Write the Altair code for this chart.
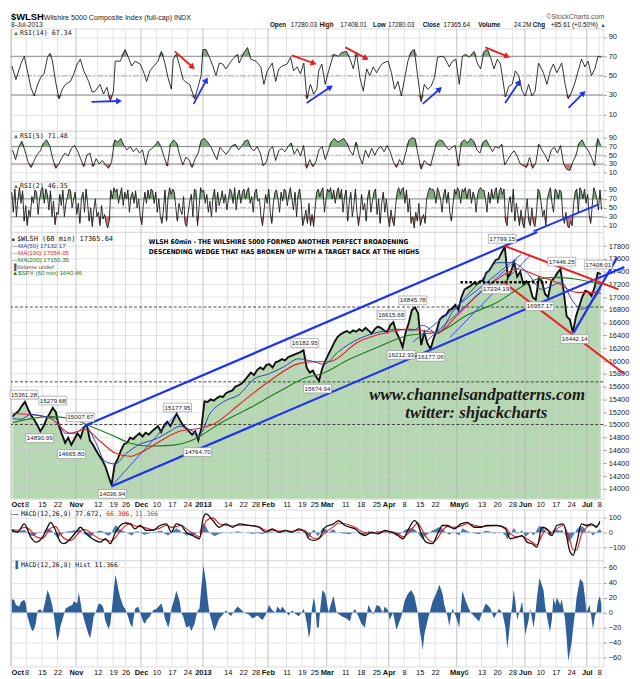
import math
import altair as alt
import pandas as pd

# ======================= DATA =======================
HOLIDAYS = ["2012-10-29", "2012-10-30", "2012-11-22", "2012-12-25", "2013-01-01",
            "2013-01-21", "2013-02-18", "2013-03-29", "2013-05-27", "2013-07-04"]
TICK_DATES = ["2012-10-01", "2012-10-08", "2012-10-15", "2012-10-22", "2012-11-01", "2012-11-12",
              "2012-11-19", "2012-11-26", "2012-12-03", "2012-12-10", "2012-12-17", "2012-12-24",
              "2013-01-02", "2013-01-14", "2013-01-22", "2013-01-28", "2013-02-01", "2013-02-11",
              "2013-02-19", "2013-02-25", "2013-03-01", "2013-03-11", "2013-03-18", "2013-03-25",
              "2013-04-01", "2013-04-08", "2013-04-15", "2013-04-22", "2013-05-01", "2013-05-06",
              "2013-05-13", "2013-05-20", "2013-05-28", "2013-06-03", "2013-06-10", "2013-06-17",
              "2013-06-24", "2013-07-01", "2013-07-08"]
TICK_LABELS = ["Oct", "8", "15", "22", "Nov", "12", "19", "26", "Dec", "10", "17", "24", "2013", "14",
               "22", "28", "Feb", "11", "19", "25", "Mar", "11", "18", "25", "Apr", "8", "15", "22",
               "May", "6", "13", "20", "28", "Jun", "10", "17", "24", "Jul", "8"]
MONTH_LABELS = ["Oct", "Nov", "Dec", "2013", "Feb", "Mar", "Apr", "May", "Jun", "Jul"]

# daily closes of $WLSH (one per trading day)
CLOSE = [15130, 15180, 15220, 15300, 15361, 15250, 15150, 15080, 15000, 14900,
         14980, 15100, 15180, 15270, 15200, 14980, 14850, 14720, 14800, 14690,
         14780, 14870, 14800, 14960, 15000, 14760, 14690, 14600, 14520, 14450,
         14350, 14200, 14060, 14380, 14470, 14600, 14700, 14720, 14800, 14780,
         14830, 14870, 14820, 14880, 14850, 14900, 14940, 14980, 14890, 15000,
         15050, 14980, 15080, 15178, 15080, 15000, 14950, 14900, 14850, 14900,
         14760, 14950, 15370, 15360, 15400, 15380, 15420, 15450, 15440, 15500,
         15520, 15540, 15600, 15620, 15650, 15700, 15760, 15820, 15780, 15860,
         15900, 15870, 15940, 15950, 15900, 15980, 16000, 16030, 16010, 16060,
         16080, 16100, 16120, 16140, 16170, 15900, 15820, 15850, 15760, 15690,
         15880, 16000, 16100, 16200, 16300, 16380, 16420, 16450, 16470, 16440,
         16480, 16460, 16500, 16470, 16520, 16480, 16430, 16500, 16540, 16520,
         16480, 16450, 16560, 16610, 16450, 16350, 16220, 16450, 16600, 16800,
         16840, 16750, 16250, 16450, 16280, 16190, 16350, 16480, 16650, 16700,
         16720, 16800, 16820, 16880, 16800, 17000, 17120, 17150, 17180, 17220,
         17200, 17250, 17260, 17380, 17420, 17500, 17580, 17600, 17700, 17790,
         17300, 17400, 17550, 17320, 17400, 17200, 17250, 17180, 17000, 16960,
         17300, 17250, 17050, 17000, 17250, 17300, 17380, 17440, 17100, 16700,
         16650, 16450, 16700, 16850, 17000, 17100, 17080, 17020, 17150, 17380,
         17365]

MA50 = [(0.5, 15100), (3.2, 15090), (6.4, 15165), (11.2, 15130), (14.4, 15100), (17.6, 14870),
        (20.8, 14870), (24.0, 14980), (27.2, 14745), (30.4, 14430), (33.7, 14390), (36.9, 14540),
        (41.7, 14700), (46.5, 14775), (51.3, 14900), (54.5, 14980), (57.7, 14930), (60.9, 14850),
        (64.1, 15165), (68.9, 15370), (73.7, 15475), (78.5, 15720), (83.3, 15800), (88.1, 15910),
        (92.9, 16035), (97.8, 15990), (101.0, 15950), (105.8, 16150), (112.2, 16345), (118.6, 16450),
        (125.0, 16500), (129.8, 16480), (133.0, 16560), (137.8, 16430), (142.6, 16765), (147.4, 17030),
        (152.2, 17280), (157.1, 17540), (161.9, 17540), (166.7, 17385), (171.5, 17120), (174.7, 17180),
        (177.9, 17230), (181.1, 16965), (184.3, 16810), (187.5, 16920), (190.5, 17132)]
MA100 = [(0.5, 15180), (6.4, 15165), (12.8, 15100), (19.2, 14870), (24.0, 14930), (28.8, 14745),
         (33.7, 14560), (38.5, 14510), (41.7, 14560), (48.1, 14745), (54.5, 14900), (60.9, 14950),
         (65.7, 15020), (73.7, 15320), (83.3, 15680), (92.9, 15960), (97.8, 15990), (102.6, 15990),
         (112.2, 16300), (121.8, 16450), (128.2, 16500), (137.8, 16450), (144.2, 16720), (150.6, 17030),
         (157.1, 17280), (163.5, 17440), (169.9, 17340), (176.3, 17230), (182.7, 17075), (189.1, 17075),
         (190.5, 17054)]
MA200 = [(0.5, 15040), (12.8, 15130), (19.2, 15100), (25.6, 14980), (32.1, 14850), (38.5, 14715),
         (44.9, 14670), (51.3, 14680), (57.7, 14745), (60.9, 14820), (67.3, 15020), (76.9, 15260),
         (86.5, 15520), (96.2, 15755), (99.4, 15785), (109.0, 16020), (118.6, 16220), (128.2, 16400),
         (137.8, 16450), (147.4, 16720), (157.1, 16920), (163.5, 17120), (169.9, 17280), (176.3, 17310),
         (182.7, 17280), (190.5, 17200)]

RSI14_DAY = [0.3, 1.6, 3.2, 4.3, 5.3, 6.4, 7.5, 8.6, 9.6, 10.7, 11.8, 12.6, 13.4, 14.4, 15.5, 16.6,
             17.6, 19.2, 20.3, 21.4, 22.4, 23.5, 25.1, 26.2, 27.2, 28.8, 29.9, 31.0, 32.1, 33.1, 33.7,
             35.3, 36.9, 37.9, 39.0, 40.1, 41.7, 42.7, 43.8, 44.9, 45.9, 47.5, 48.6, 49.7, 50.7, 51.8,
             52.4, 53.4, 54.5, 55.6, 56.6, 57.7, 59.3, 60.4, 61.4, 62.0, 63.0, 64.1, 65.2, 66.2, 67.3,
             68.4, 69.4, 71.6, 73.2, 73.7, 75.3, 76.4, 77.5, 79.1, 80.7, 81.7, 82.8, 84.4, 85.5, 86.5,
             87.6, 89.2, 90.3, 91.3, 92.4, 93.5, 94.6, 95.6, 96.7, 97.8, 98.8,
             99.4, 100.4, 101.5, 102.6, 104.2, 105.8, 106.8, 108.4, 109.5, 110.6, 111.6, 112.7, 113.8,
             114.9, 115.9, 117.0, 118.1, 119.1, 120.2, 121.8, 122.9, 123.9, 125.0, 126.1, 127.1, 128.2,
             129.3, 130.3, 131.4, 132.5, 133.5, 134.6, 135.7, 136.8, 137.8, 138.9, 140.0, 141.6, 142.6,
             143.7, 144.8, 145.8, 146.9, 148.0, 149.6, 150.6, 151.7, 152.8, 153.9, 154.9, 156.0, 157.1,
             158.1, 159.7, 160.8, 161.9, 162.9, 164.0, 165.1, 166.1, 167.2, 168.3, 169.3, 170.4, 172.0,
             173.1, 174.2, 175.2, 176.3, 177.9, 179.0, 180.0, 181.1, 182.2, 183.2, 184.3, 185.4, 186.4,
             187.5, 188.6, 189.6, 190.7]
RSI14_VAL = [60, 46, 62, 70, 55, 38, 29, 41, 48, 52, 69, 73, 65, 44, 26, 36, 41, 44, 52, 62,
             67, 55, 44, 33, 34, 41, 31, 38, 24, 34, 65, 65, 77, 69, 60, 65, 62, 55, 44, 55,
             59, 65, 75, 63, 48, 36, 67, 72, 60, 46, 43, 41, 26, 38, 50, 77, 77, 69, 60, 50,
             63, 62, 57, 67, 72, 63, 74, 79, 67, 65, 59, 41, 55, 63, 44, 57, 60, 62, 69, 55,
             59, 52, 63, 26, 41, 31, 36,
             55, 62, 41, 55, 72, 70, 74, 75, 67, 57, 74, 48, 34, 57, 50, 59, 53, 59, 63, 65,
             53, 36, 44, 29, 46, 65, 75, 77, 48, 23, 41, 36, 39, 48, 69, 70, 69, 59, 65, 67,
             41, 70, 72, 69, 75, 63, 57, 75, 77, 69, 57, 67, 62, 28, 39, 41, 55, 50, 34, 29,
             41, 29, 34, 63, 53, 41, 55, 62, 53, 63, 41, 26, 33, 43, 55, 67, 59, 65, 50, 57,
             70, 69]

# one value per trading day
RSI5_VAL = [62, 40, 68, 82, 60, 35, 22, 38, 52, 60, 78,
            85, 72, 42, 20, 30, 45, 55, 48, 66, 72,
            60, 42, 24, 50, 55, 24, 42, 30, 38, 28, 20,
            35, 85, 80, 88, 72, 62, 70, 58, 66, 55,
            62, 28, 60, 65, 72, 82, 68, 45, 25, 75,
            85, 78, 50, 28, 45, 40, 22, 42, 55, 85,
            88, 80, 70, 55, 40, 68, 60, 52, 62, 72,
            75, 62, 70, 82, 85, 66, 60, 70, 55, 26,
            35, 62, 70, 38, 60, 65, 58, 70, 78, 52,
            65, 48, 72, 20, 40, 24, 35, 62, 70, 40,
            60, 82, 88, 80, 84, 88, 78, 60, 50, 80,
            48, 30, 62, 45, 66, 50, 64, 70, 58, 72,
            58, 35, 22, 40, 28, 55, 84, 90, 88, 50,
            18, 38, 30, 26, 52, 80, 85, 82, 70, 62,
            68, 72, 25, 80, 85, 78, 88, 82, 62, 55,
            80, 85, 72, 58, 70, 66, 75, 28, 40, 52,
            60, 48, 30, 26, 22, 45, 20, 32, 75, 62,
            50, 35, 62, 68, 55, 72, 30, 18, 15, 35,
            50, 78, 85, 70, 60, 45, 26, 88, 72]

# two values per trading day
RSI2_VAL = [85, 40, 92, 30, 70, 95, 60, 88, 20, 55, 10, 45, 30, 75, 60, 90, 85, 35, 70, 90,
            95, 60, 92, 80, 45, 88, 30, 65, 12, 40, 35, 80, 55, 90, 30, 60, 75, 92, 88, 50,
            70, 85, 35, 60, 15, 70, 85, 40, 92, 60, 20, 50, 8, 45, 70, 30, 40, 10, 55, 25,
            35, 15, 5, 20, 90, 70, 95, 85, 92, 60, 80, 95, 55, 85, 70, 90, 40, 75, 85, 60,
            88, 50, 70, 30, 12, 55, 85, 60, 90, 70, 92, 88, 60, 85, 40, 70, 30, 15, 45, 90,
            20, 75, 95, 80, 92, 85, 50, 20, 60, 45, 35, 75, 15, 8, 40, 65, 80, 30, 92, 88,
            10, 50, 95, 85, 90, 60, 80, 40, 65, 30, 75, 92, 40, 85, 55, 70, 88, 60, 80, 45,
            70, 92, 85, 60, 95, 45, 80, 90, 60, 85, 92, 70, 88, 95, 60, 75, 40, 85, 92, 65,
            70, 30, 10, 45, 80, 60, 92, 40, 15, 60, 85, 90, 70, 40, 85, 65, 92, 88, 55, 80,
            95, 70, 45, 85, 30, 80, 92, 60, 10, 25, 45, 15, 60, 10, 35, 8, 50, 85, 92, 75,
            88, 95, 40, 70, 92, 85, 95, 70, 90, 60, 85, 95, 70, 92, 40, 75, 90, 20, 60, 85,
            30, 55, 92, 40, 10, 35, 80, 45, 60, 20, 75, 90, 40, 65, 85, 92, 35, 70, 15, 60,
            85, 40, 70, 30, 8, 45, 20, 10, 55, 85, 95, 80, 92, 95, 60, 90, 40, 70, 15, 30,
            5, 40, 20, 60, 10, 25, 35, 15, 70, 85, 95, 90, 92, 85, 60, 95, 85, 70, 40, 80,
            92, 60, 85, 40, 20, 55, 92, 80, 95, 88, 60, 92, 85, 95, 70, 90, 92, 60, 85, 75,
            40, 80, 92, 95, 88, 90, 70, 40, 85, 60, 92, 70, 85, 95, 60, 88, 95, 80, 92, 20,
            10, 60, 75, 40, 92, 20, 60, 35, 10, 45, 15, 5, 40, 70, 20, 10, 50, 15, 8, 40,
            92, 85, 60, 30, 45, 10, 70, 85, 95, 60, 40, 92, 88, 70, 90, 85, 30, 15, 40, 10,
            5, 20, 10, 60, 85, 92, 40, 95, 88, 70, 92, 60, 80, 35, 15, 55, 95, 85, 70, 45,
            90, 46]

MACD_DAY = [0.3, 2.1, 4.3, 6.4, 8.0, 10.2, 11.8, 12.8, 14.4, 16.0, 17.1, 19.2, 21.4, 22.4, 24.0,
            25.6, 27.2, 28.8, 30.5, 32.1, 33.7, 35.3, 36.9, 38.5, 40.1, 41.7, 43.8, 45.9, 48.1,
            50.2, 51.8, 53.4, 55.0, 56.6, 58.8, 60.9, 62.0, 63.0, 65.2, 67.3, 69.4, 71.6, 73.7,
            76.9, 80.1, 82.3, 84.4, 86.5, 88.7, 90.8, 93.0, 95.1, 96.2, 97.8, 99.4, 101.5, 104.2,
            105.8, 107.9, 111.1, 114.3, 116.5, 118.6, 120.7, 122.9, 125.0, 126.6, 128.2, 130.3,
            131.4, 132.5, 134.1, 136.2, 137.8, 139.4, 141.0, 143.2, 145.3, 147.4, 149.6, 151.7,
            153.8, 157.1, 159.7, 161.3, 163.5, 165.1, 166.7, 168.3, 169.9, 171.5, 173.1, 174.7,
            176.3, 178.4, 180.6, 181.6, 182.7, 184.3, 185.9, 187.5, 189.1, 190.2]
MACD_VAL = [14, 2, 59, -32, -66, -32, 36, 70, 14, -66, -77, -43, 14, 36, 2, -32, -54, -66, -43, -77,
            0, 48, 65, 59, 25, 48, 14, 14, 48, 59, 2, 59, 48, 2, -21, -43, 93, 127, 82, 36,
            59, 36, 59, 48, 36, 2, 25, 2, 14, 2, 25, 2, -43, -54, -43, 36, 59, 82, 48, 25,
            -21, 2, -9, 14, 2, -21, -43, 14, 82, 59, -9, -66, -77, -9, 48, 48, 25, 59, 70, 36,
            36, 48, 48, 25, -43, -32, -21, -66, -77, -100, 36, 25, -21, 48, 59, -134, -156, -77, 59, 48,
            59, 36, 78]
SIGNAL_VAL = [20, 15, 35, 15, -30, -40, 0, 30, 40, -10, -40, -55, -15, 10, 20, 0, -25, -45, -50, -60,
              -35, 10, 45, 60, 45, 40, 30, 18, 30, 50, 35, 40, 50, 25, -5, -30, 20, 80, 100, 60,
              50, 45, 50, 50, 40, 15, 15, 10, 10, 8, 15, 12, -15, -40, -40, 0, 40, 65, 60, 35,
              0, -5, -3, 5, 5, -10, -30, -10, 45, 65, 30, -30, -65, -40, 15, 40, 35, 45, 60, 50,
              40, 45, 48, 35, -10, -30, -25, -45, -65, -85, -20, 20, 0, 25, 50, -60, -120, -120, -10, 35,
              50, 45, 66]
HIST = [(0.3, 18), (1.1, 16), (1.6, 10), (2.7, 8), (3.2, 14), (4.3, 17), (4.8, 12), (5.3, -5), (6.4, -20),
        (6.9, -25), (7.5, -22), (8.0, -15), (8.6, 2), (9.1, 4), (9.6, 4), (10.2, 0), (10.7, 8), (11.8, 30),
        (12.3, 25), (12.8, 18), (13.4, 8), (13.9, -5), (14.4, -20), (15.0, -38), (15.5, -30), (16.0, -18),
        (16.6, -10), (17.6, 5), (18.7, 8), (19.8, 10), (20.3, 15), (21.4, 12), (21.9, 27), (22.4, 15),
        (23.0, 0), (24.0, -15), (25.1, -30), (25.6, -34), (26.2, -20), (26.7, -5), (27.8, 5), (28.3, 12),
        (29.4, 10), (29.9, 5), (30.4, -10), (31.5, -22), (32.1, -15), (32.6, 5), (33.1, 25), (33.7, 50),
        (34.2, 42), (34.7, 30), (35.3, 20), (36.3, 8), (36.9, 5), (37.4, 0), (38.5, -15), (39.2, -20),
        (39.5, -10), (40.1, 5), (41.1, 8), (41.7, 0), (42.7, -12), (43.3, -15), (43.8, -10), (44.9, -5),
        (45.9, 3), (47.0, 5), (48.1, 10), (48.6, 12), (49.1, 5), (49.7, -8), (50.8, -20), (51.3, -12),
        (51.8, 5), (52.9, 20), (53.4, 29), (54.5, 15), (55.0, 0), (55.6, -5), (56.6, -20), (57.7, -18),
        (58.2, -25), (59.3, -15), (59.8, -5), (60.4, 3), (60.9, 5), (61.4, 30), (62.2, 63), (63.0, 40),
        (63.6, 15), (64.1, 0), (65.2, -18), (65.7, -25), (66.2, -20), (67.3, -8), (68.4, -3), (69.4, 3),
        (71.0, -5), (72.1, 2), (73.2, 8), (74.3, 4), (75.3, 0), (76.9, -3), (78.0, -8), (79.6, -4),
        (81.2, -10), (82.3, -3), (83.3, 10), (84.4, 3), (85.5, 0), (86.0, 8), (87.1, 3), (87.6, 8),
        (88.7, 2), (89.7, -4), (90.8, 3), (91.9, -2), (93.0, -5), (94.6, 5), (95.6, -15), (96.2, -34),
        (96.7, -25), (97.2, 5), (97.8, 20), (98.3, 10), (98.8, -20),
        (99.4, -20), (99.9, 5), (100.6, 30), (101.5, 25), (102.6, 0), (103.6, 15), (104.2, 22), (105.2, 0),
        (106.8, -5), (108.4, -8), (109.5, -12), (110.0, -3), (111.1, 5), (112.2, -5), (113.2, -15),
        (114.3, -20), (114.9, -5), (115.4, 10), (116.5, 2), (117.0, -3), (118.1, 10), (119.1, 8),
        (119.7, 3), (120.2, 0), (120.7, 8), (121.8, 3), (122.3, -10), (123.4, 0), (123.9, -10),
        (124.5, -23), (125.5, -12), (126.1, -5), (127.1, 15), (128.2, 25), (129.3, 30), (130.3, 22),
        (131.4, 0), (131.9, -20), (132.5, -35), (133.0, -50), (133.5, -30), (134.6, -10), (136.2, 15),
        (137.3, 25), (138.4, 37), (139.4, 25), (140.0, 10), (141.0, -5), (141.6, -18), (142.1, -5),
        (142.6, 5), (143.7, -5), (144.8, -20), (145.3, 5), (145.8, 29), (146.9, 15), (147.4, 10),
        (148.5, 0), (149.6, -5), (151.2, -12), (152.2, 0), (153.3, 12), (154.4, 8), (154.9, 5),
        (156.0, -8), (157.0, 0), (157.6, 5), (158.7, 0), (159.7, -20), (160.3, -48), (160.8, -30),
        (161.3, -10), (161.9, 10), (162.4, 30), (162.9, 15), (163.5, -10), (164.5, 5), (165.1, 15),
        (165.6, -5), (166.1, -30), (167.2, -10), (167.7, 5), (168.8, -20), (169.3, -5), (169.9, 20),
        (170.7, 46), (172.0, 30), (172.5, 10), (173.1, -5), (174.1, -26), (174.7, -10), (175.2, 20),
        (175.8, 10), (176.3, 20), (177.4, 10), (177.9, 18), (178.4, 5), (179.0, -10), (179.5, -35),
        (180.0, -65), (181.1, -40), (181.6, -20), (182.2, 0), (182.7, 20), (183.8, 45), (184.8, 40),
        (185.4, 20), (185.9, 0), (186.9, 10), (188.0, -22), (188.6, -5), (189.1, 0), (189.6, 15),
        (190.2, 22), (190.7, 11)]

# price tags (text, trading-day position, price position)
PRICE_TAGS = [("15361.28", 4.2, 15475), ("14890.99", 9.3, 14792), ("15279.68", 13.5, 15382),
              ("15007.67", 22.4, 15118), ("14665.80", 19.5, 14544), ("14036.94", 32.7, 13922),
              ("15177.95", 53.8, 15273), ("14764.70", 60.3, 14575), ("16182.95", 94.9, 16283),
              ("15674.94", 99.0, 15569), ("16615.68", 122.8, 16718), ("16212.93", 126.0, 16097),
              ("16845.78", 129.8, 16951), ("16177.06", 135.6, 16066), ("17799.15", 158.7, 17914),
              ("17234.19", 156.7, 17122), ("16957.17", 170.8, 16858), ("17446.25", 177.9, 17556),
              ("16442.14", 182.1, 16345), ("17408.01", 189.7, 17510)]
LEVELS_DASHED = [16845.78, 15674.94, 15007.67]
LEVEL_DOTTED = [(145.2, 173.1, 17234.19)]
TREND_BLUE = [(24.0, 14990, 170.0, 18022), (32.4, 14037, 198.1, 17474), (181.7, 16442, 195.8, 17619)]
TREND_BLUE_THIN = [(32.4, 14037, 53.5, 15178), (129.8, 16298, 164.8, 17670),
                   (134.6, 16330, 163.5, 17590), (141.9, 16376, 167.6, 17650)]
TREND_RED = [(159.3, 17805, 196.2, 17122), (159.3, 17230, 198.1, 15801)]
RSI_RED_ARROWS = [(52.9, 75.1, 58.7, 58.7), (90.7, 71.0, 97.8, 62.8), (108.0, 79.2, 114.7, 67.9),
                  (153.2, 79.2, 160.3, 70.0)]
RSI_BLUE_ARROWS = [(26.0, 22.8, 34.9, 23.8), (59.0, 20.8, 63.1, 45.4), (95.5, 21.8, 103.2, 38.2),
                   (133.0, 20.8, 138.5, 36.2), (159.6, 21.8, 164.1, 43.3), (180.1, 16.7, 184.9, 32.1)]
RSI2_BLUE_LINE = [(168.8, -3.0, 189.6, 57.0)]
PRICE_TICKS = list(range(14000, 17801, 200))
RSI_TICKS = [10, 30, 50, 70, 90]
MACD_TICKS = [-100, 0, 100]
HIST_TICKS = [-60, -40, -20, 0, 20, 40, 60]

# ======================= BUILD =======================
trading = [d for d in pd.bdate_range("2012-10-01", "2013-07-08") if d.strftime("%Y-%m-%d") not in HOLIDAYS]
pos = {d.strftime("%Y-%m-%d"): i for i, d in enumerate(trading)}
TICK_POS = [pos[t] for t in TICK_DATES]

W = 597
XMAX = 191.3
XS = alt.Scale(domain=[0, XMAX], nice=False, zero=False)
H = dict(rsi14=103, rsi5=51, rsi2=51, main=269, gap=11, macd=51, hist=107)
S_RSI14 = alt.Scale(domain=[-6.92, 98.72], nice=False, zero=False)
S_RSI5 = alt.Scale(domain=[-9.7, 106.0], nice=False, zero=False)
S_RSI2 = alt.Scale(domain=[-4.0, 109.3], nice=False, zero=False)
S_MAIN = alt.Scale(domain=[13845, 18022], nice=False, zero=False)
S_MACD = alt.Scale(domain=[-190.5, 156.5], nice=False, zero=False)
S_HIST = alt.Scale(domain=[-71.9, 69.8], nice=False, zero=False)

AXF = "Liberation Sans"
MONO = "DejaVu Sans Mono"
ONE = pd.DataFrame({"k": [0]})


def right_axis(vals, grid=True):
    return alt.Axis(orient="right", values=vals, grid=grid, gridColor="#e2e2e2", gridWidth=1,
                    ticks=True, tickSize=3, tickColor="#999999", domain=False, labelFont=AXF,
                    labelFontSize=7.5, labelColor="#222222", labelPadding=2, format="d")


# one identical y-axis definition per panel, used by every layer of that panel
Y_AXES = {
    id(S_RSI14): right_axis(RSI_TICKS),
    id(S_RSI5): right_axis(RSI_TICKS),
    id(S_RSI2): right_axis(RSI_TICKS),
    id(S_MAIN): right_axis(PRICE_TICKS, grid=False),
    id(S_MACD): right_axis(MACD_TICKS),
    id(S_HIST): right_axis(HIST_TICKS),
}


def X(f="d", axis=None):
    return alt.X(f"{f}:Q", scale=XS, axis=axis, title=None)


def Y(f, sc):
    return alt.Y(f"{f}:Q", scale=sc, axis=Y_AXES[id(sc)], title=None)


lab_arr = ",".join("'%s'" % l for l in TICK_LABELS)
pos_arr = ",".join(str(p) for p in TICK_POS)
mon_arr = ",".join(str(p) for p, l in zip(TICK_POS, TICK_LABELS) if l in MONTH_LABELS)


def bottom_axis():
    return alt.Axis(orient="bottom", values=TICK_POS,
                    labelExpr=f"[{lab_arr}][indexof([{pos_arr}], datum.value)]",
                    grid=False, ticks=False, domain=False, labelFont=AXF, labelFontSize=7.5,
                    labelColor="#111111", labelPadding=2, labelFlush=True, labelOverlap=False,
                    labelFontWeight={"condition": {"test": f"indexof([{mon_arr}], datum.value) >= 0",
                                                   "value": "bold"}, "value": "normal"})


grid_major = pd.DataFrame({"d": [p for p, l in zip(TICK_POS, TICK_LABELS) if l in MONTH_LABELS]})
grid_minor = pd.DataFrame({"d": [p for p, l in zip(TICK_POS, TICK_LABELS) if l not in MONTH_LABELS]})


def vgrid(axis=None, minor="#e4e4e4", major="#c0c0c0", op=1.0):
    return [alt.Chart(grid_minor).mark_rule(color=minor, strokeWidth=1, opacity=op).encode(x=X(axis=axis)),
            alt.Chart(grid_major).mark_rule(color=major, strokeWidth=1, opacity=op).encode(x=X(axis=axis))]


def label(txt, x, y, size=7.0, color="#000000", font=AXF, weight="normal", align="left",
          style="normal", baseline="middle"):
    return alt.Chart(ONE).mark_text(align=align, baseline=baseline, fontSize=size, font=font,
                                    fontWeight=weight, fontStyle=style, color=color).encode(
        x=alt.value(x), y=alt.value(y), text=alt.value(txt))


def segs(lst, sc, color, width, dash=None, axis=None):
    df = pd.DataFrame(lst, columns=["d1", "v1", "d2", "v2"])
    kw = dict(color=color, strokeWidth=width)
    if dash:
        kw["strokeDash"] = dash
    return alt.Chart(df).mark_rule(**kw).encode(x=X("d1", axis), x2="d2:Q", y=Y("v1", sc), y2="v2:Q")


def hrule(vals, sc, color, width=1.0, dash=None, opacity=1.0):
    kw = dict(color=color, strokeWidth=width, opacity=opacity)
    if dash:
        kw["strokeDash"] = dash
    return alt.Chart(pd.DataFrame({"v": vals})).mark_rule(**kw).encode(y=Y("v", sc))


def rsi_layers(day, val, sc, name):
    df = pd.DataFrame({"d": day, "v": val})
    base = alt.Chart(df)
    return [
        *vgrid(),
        hrule([30, 70], sc, "#8c8c8c", 1.0),
        hrule([50], sc, "#b0b0b0", 1.0, [6, 2, 2, 2]),
        base.transform_calculate(hi="max(datum.v, 70)").mark_area(color="#6f9a6f", opacity=0.85)
            .encode(x=X(), y=Y("hi", sc), y2=alt.datum(70)),
        base.transform_calculate(lo="min(datum.v, 30)").mark_area(color="#b46a6a", opacity=0.85)
            .encode(x=X(), y=Y("lo", sc), y2=alt.datum(30)),
        base.mark_line(color="#1c1c1c", strokeWidth=0.9).encode(x=X(), y=Y("v", sc)),
        label("\u25b2", 2, 5, 6, "#4d7a4d"),
        label(name, 9, 5, 6.7, "#111111", MONO),
    ]


def arrow_heads(lst, px_per_y):
    rows = []
    for d1, v1, d2, v2 in lst:
        dx = (d2 - d1) * W / XMAX
        dy = -(v2 - v1) * px_per_y
        ang = math.degrees(math.atan2(dx, -dy)) % 360
        rows.append({"d": d2, "v": v2, "ang": ang})
    return pd.DataFrame(rows)


# ---------- RSI(14) + header ----------
py14 = H["rsi14"] / (98.72 + 6.92)
rsi14_layers = rsi_layers(RSI14_DAY, RSI14_VAL, S_RSI14, "RSI(14) 67.34")
rsi14_layers += [
    segs(RSI_RED_ARROWS, S_RSI14, "#ee1c1c", 1.8),
    segs(RSI_BLUE_ARROWS, S_RSI14, "#1f32f0", 1.8),
    alt.Chart(arrow_heads(RSI_RED_ARROWS, py14)).mark_point(
        shape="triangle-up", filled=True, size=45, color="#ee1c1c", opacity=1).encode(
        x=X(), y=Y("v", S_RSI14), angle=alt.Angle("ang:Q", scale=None)),
    alt.Chart(arrow_heads(RSI_BLUE_ARROWS, py14)).mark_point(
        shape="triangle-up", filled=True, size=45, color="#1f32f0", opacity=1).encode(
        x=X(), y=Y("v", S_RSI14), angle=alt.Angle("ang:Q", scale=None)),
    alt.Chart(ONE).mark_rule(opacity=0, strokeWidth=0.1).encode(
        x=alt.value(0), x2=alt.value(2), y=alt.value(-16), y2=alt.value(-16)),
    label("$WLSH", 0, -9, 9.5, "#000000", AXF, "bold", baseline="alphabetic"),
    label("Wilshire 5000 Composite Index (full-cap) INDX", 33, -9, 7.2, "#222222", baseline="alphabetic"),
    label("8-Jul-2013", 0, -1.5, 6.8, "#222222", baseline="alphabetic"),
    label("\u00a9StockCharts.com", 598, -10, 7, "#555555", align="right", baseline="alphabetic"),
    label("\u25b2", 594, -1.5, 5.5, "#2a4aa8", baseline="alphabetic"),
]
OHLC = [("Open", True, 261), ("17280.03", False, 282), ("High", True, 311), ("17408.01", False, 332),
        ("Low", True, 365), ("17280.03", False, 380), ("Close", True, 415), ("17365.64", False, 436),
        ("Volume", True, 471), ("24.2M", False, 507), ("Chg", True, 526), ("+85.61 (+0.50%)", False, 544)]
for t, b, xx in OHLC:
    rsi14_layers.append(label(t, xx, -1.5, 6.4, "#111111", AXF, "bold" if b else "normal",
                              baseline="alphabetic"))
rsi14 = alt.layer(*rsi14_layers).properties(width=W, height=H["rsi14"])

# ---------- RSI(5), RSI(2) ----------
rsi5 = alt.layer(*rsi_layers([i + 0.5 for i in range(len(RSI5_VAL))], RSI5_VAL, S_RSI5,
                             "RSI(5) 71.48")).properties(width=W, height=H["rsi5"])
rsi2_layers = rsi_layers([i * 0.5 + 0.25 for i in range(len(RSI2_VAL))], RSI2_VAL, S_RSI2, "RSI(2) 46.35")
rsi2_layers.append(segs(RSI2_BLUE_LINE, S_RSI2, "#1f32f0", 1.8))
rsi2 = alt.layer(*rsi2_layers).properties(width=W, height=H["rsi2"])

# ---------- main price panel ----------
BX = bottom_axis()
price_df = pd.DataFrame({"d": [i + 0.5 for i in range(len(CLOSE))], "p": CLOSE})
ma_df = lambda lst: pd.DataFrame(lst, columns=["d", "p"])
tags_df = pd.DataFrame(PRICE_TAGS, columns=["t", "d", "p"])
dotted_df = pd.DataFrame(LEVEL_DOTTED, columns=["d1", "d2", "p"])
NARROW = "Liberation Sans Narrow, DejaVu Sans Condensed, Liberation Sans"

main_layers = [
    alt.Chart(price_df).mark_area(color="#b5d7b1", opacity=1).encode(
        x=X(axis=BX), y=Y("p", S_MAIN), y2=alt.datum(13845)),
    *vgrid(axis=BX, minor="#d2d2d2", major="#b0b0b0", op=0.75),
    hrule(PRICE_TICKS, S_MAIN, "#d0d0d0", 1.0, opacity=0.6),
    hrule(LEVELS_DASHED, S_MAIN, "#333333", 0.9, [3, 2]),
    alt.Chart(price_df).mark_line(color="#111111", strokeWidth=1.9).encode(x=X(axis=BX), y=Y("p", S_MAIN)),
    alt.Chart(ma_df(MA200)).mark_line(color="#1e7b1e", strokeWidth=1.1, interpolate="monotone")
        .encode(x=X(axis=BX), y=Y("p", S_MAIN)),
    alt.Chart(ma_df(MA100)).mark_line(color="#e8202a", strokeWidth=1.1, interpolate="monotone")
        .encode(x=X(axis=BX), y=Y("p", S_MAIN)),
    alt.Chart(ma_df(MA50)).mark_line(color="#2a46a8", strokeWidth=1.0, interpolate="monotone")
        .encode(x=X(axis=BX), y=Y("p", S_MAIN)),
    alt.Chart(dotted_df).mark_rule(color="#000000", strokeWidth=2.6, strokeDash=[2.5, 2])
        .encode(x=X("d1", BX), x2="d2:Q", y=Y("p", S_MAIN)),
    segs(TREND_BLUE_THIN, S_MAIN, "#2a3cf0", 0.9, axis=BX),
    segs(TREND_BLUE, S_MAIN, "#1f32f0", 2.2, axis=BX),
    segs(TREND_RED, S_MAIN, "#ee1c1c", 2.0, axis=BX),
    alt.Chart(tags_df).transform_calculate(d1="datum.d - 4.5", d2="datum.d + 4.5",
                                           p1="datum.p - 68", p2="datum.p + 68")
        .mark_rect(fill="#ffffff", stroke="#9a9a9a", strokeWidth=0.7)
        .encode(x=X("d1", BX), x2="d2:Q", y=Y("p1", S_MAIN), y2="p2:Q"),
    alt.Chart(tags_df).mark_text(fontSize=6.3, font=AXF, color="#222222")
        .encode(x=X(axis=BX), y=Y("p", S_MAIN), text="t:N"),
    label("www.channelsandpatterns.com", 470, 164, 17, "#1a1a1a", "Liberation Serif",
          weight="bold", align="center", style="italic"),
    label("twitter: shjackcharts", 469, 183, 17, "#1a1a1a", "Liberation Serif",
          weight="bold", align="center", style="italic"),
    label("WLSH 60min - THE WILSHIRE 5000 FORMED ANOTHER PERFECT BROADENING", 139, 10.5, 6.7,
          "#000000", NARROW, "bold"),
    label("DESCENDING WEDGE THAT HAS BROKEN UP WITH A TARGET BACK AT THE HIGHS", 139, 20.5, 6.7,
          "#000000", NARROW, "bold"),
    label("$WLSH (60 min) 17365.64", 6, 7.5, 7, "#111111", MONO),
    label("\u25a0", 1, 7.5, 5, "#333333"),
    label("\u2014MA(50) 17132.17", 1, 14.3, 6.2, "#2a46a8"),
    label("\u2014MA(100) 17054.05", 1, 21, 6.2, "#e8202a"),
    label("\u2014MA(200) 17150.35", 1, 28, 6.2, "#1e7b1e"),
    label("\u2590Volume undef", 1, 35, 6.2, "#555555"),
    label("\u25b2$SPX (60 min) 1640.46", 1, 41.7, 6.2, "#1e7b1e"),
]
main = alt.layer(*main_layers).properties(width=W, height=H["main"])

gap = alt.Chart(ONE).mark_point(opacity=0).encode(x=alt.value(0), y=alt.value(0)).properties(
    width=W, height=H["gap"], view=alt.ViewBackground(stroke=None))

# ---------- MACD ----------
macd_df = pd.DataFrame({"d": MACD_DAY, "m": MACD_VAL, "s": SIGNAL_VAL})
hist_df = pd.DataFrame(HIST, columns=["d", "h"])
macd_layers = [
    *vgrid(),
    alt.Chart(hist_df).mark_area(color="#3f6fa8", opacity=0.9).encode(
        x=X(), y=Y("h", S_MACD), y2=alt.datum(0)),
    alt.Chart(macd_df).mark_line(color="#e41a1c", strokeWidth=1.1, interpolate="monotone")
        .encode(x=X(), y=Y("s", S_MACD)),
    alt.Chart(macd_df).mark_line(color="#111111", strokeWidth=1.3, interpolate="monotone")
        .encode(x=X(), y=Y("m", S_MACD)),
    label("\u2014", 1, 4.5, 7, "#111111"),
    label("MACD(12,26,9) 77.672,", 10, 4.5, 6.5, "#111111", MONO),
    label("66.306,", 96, 4.5, 6.5, "#e41a1c", MONO),
    label("11.366", 125, 4.5, 6.5, "#3f6fa8", MONO),
]
macd = alt.layer(*macd_layers).properties(width=W, height=H["macd"])

hist_layers = [
    *vgrid(axis=BX),
    alt.Chart(hist_df).mark_area(color="#2f5f98", opacity=1).encode(
        x=X(axis=BX), y=Y("h", S_HIST), y2=alt.datum(0)),
    label("\u2590", 2, 5, 7, "#2f5f98"),
    label("MACD(12,26,9) Hist 11.366", 10, 5, 6.5, "#111111", MONO),
]
hist = alt.layer(*hist_layers).properties(width=W, height=H["hist"])

chart = alt.VConcatChart(
    vconcat=[rsi14, rsi5, rsi2, main, gap, macd, hist],
    spacing=0, bounds="flush",
).resolve_scale(x="independent", y="independent").properties(
    padding={"left": 0, "right": 2, "top": 0, "bottom": 0}
).configure_view(stroke="#9a9a9a", strokeWidth=1).configure(background="#ffffff")

chart.save("out.html", embed_options={"renderer": "svg", "actions": False})
